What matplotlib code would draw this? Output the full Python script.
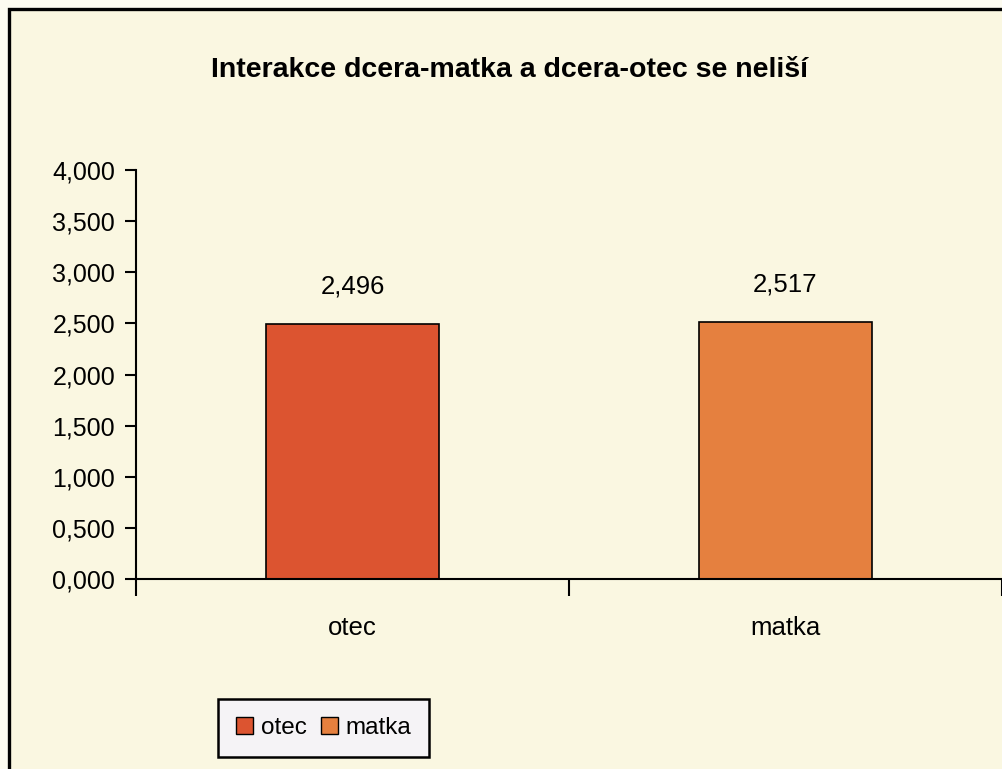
import matplotlib.pyplot as plt
from matplotlib.patches import Rectangle
from matplotlib.ticker import FuncFormatter

# data
categories = ["otec", "matka"]
values = [2.496, 2.517]
value_labels = ["2,496", "2,517"]
colors = ["#DC5430", "#E5803F"]
title = "Interakce dcera-matka a dcera-otec se neliší"

plt.rcParams["font.family"] = ["Liberation Sans", "DejaVu Sans"]

fig = plt.figure(figsize=(10.02, 7.69), dpi=100)
fig.patch.set_facecolor("#FCFBF0")

# outer chart frame (cut off at right and bottom like the scan)
frame = Rectangle((9 / 1002, -0.05), 1.1, (769 - 9) / 769 + 0.05,
                  transform=fig.transFigure, facecolor="#FAF7E1",
                  edgecolor="black", linewidth=2.4, zorder=-5)
fig.patches.append(frame)

ax = fig.add_axes([136 / 1002, (769 - 579) / 769, 1 - 136 / 1002, (579 - 170) / 769])
ax.set_facecolor("none")
ax.set_zorder(2)

x = range(len(categories))
bars = ax.bar(x, values, width=0.40, color=colors, edgecolor="black",
              linewidth=1.2, label=categories, zorder=2)

for xi, v, lab in zip(x, values, value_labels):
    ax.text(xi, v + 0.25, lab, ha="center", va="bottom", fontsize=18.5)

ax.set_xlim(-0.5, 1.5)
ax.set_ylim(0, 4)
ax.set_yticks([0, 0.5, 1, 1.5, 2, 2.5, 3, 3.5, 4])
ax.yaxis.set_major_formatter(FuncFormatter(lambda v, p: f"{v:.3f}".replace(".", ",")))
ax.set_xticks([-0.5, 0.5, 1.5])
ax.set_xticklabels([])
for xi, c in zip(x, categories):
    ax.text(xi, -0.36, c, ha="center", va="top", fontsize=18.5)

ax.tick_params(axis="y", direction="out", length=8, width=1.5, labelsize=18, pad=7)
ax.tick_params(axis="x", direction="out", length=12, width=1.5)
for s in ["top", "right"]:
    ax.spines[s].set_visible(False)
for s in ["left", "bottom"]:
    ax.spines[s].set_linewidth(1.5)

fig.text(510 / 1002, 1 - 70 / 769, title, ha="center", va="center",
         fontsize=20.5, fontweight="bold")

handles = [Rectangle((0, 0), 1, 1, facecolor=c, edgecolor="black", linewidth=1)
           for c in colors]
leg = fig.legend(handles, categories, loc="lower left",
                 bbox_to_anchor=(218 / 1002, (769 - 757) / 769),
                 ncol=2, fontsize=17.5, frameon=True, fancybox=False,
                 handlelength=0.7, handleheight=0.7, handletextpad=0.3,
                 columnspacing=0.6, borderpad=0.75, borderaxespad=0)
leg.get_frame().set_facecolor("#F5F3F6")
leg.get_frame().set_edgecolor("black")
leg.get_frame().set_linewidth(1.8)
leg.get_frame().set_alpha(1)

fig.savefig("out.png", dpi=100, facecolor=fig.get_facecolor())
